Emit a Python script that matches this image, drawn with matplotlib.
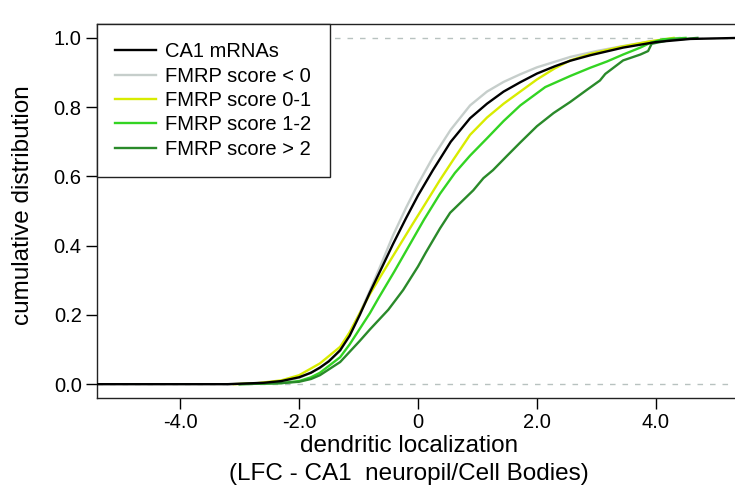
import matplotlib
matplotlib.use('Agg')
import matplotlib.pyplot as plt

plt.rcParams['font.family'] = ['Liberation Sans', 'DejaVu Sans']

# cumulative distribution curves
ca1X = [-5.4, -3.2, -2.6, -2.3, -2.0, -1.8, -1.65, -1.5, -1.31, -1.15, -0.98, -0.81, -0.6, -0.42, -0.2, 0.0, 0.25, 0.55, 0.875, 1.16, 1.44, 1.72, 2.0, 2.3, 2.56, 2.9, 3.45, 4.0, 4.58, 5.4]
ca1Y = [0.0, 0.0, 0.004, 0.009, 0.02, 0.033, 0.048, 0.066, 0.098, 0.14, 0.20, 0.265, 0.34, 0.405, 0.48, 0.545, 0.618, 0.70, 0.768, 0.81, 0.845, 0.872, 0.897, 0.918, 0.934, 0.95, 0.972, 0.988, 0.997, 1.0]

grayX = [-3.2, -2.6, -2.3, -2.0, -1.65, -1.31, -0.98, -0.81, -0.6, -0.42, -0.2, 0.0, 0.25, 0.55, 0.875, 1.16, 1.44, 1.72, 2.0, 2.56, 3.0, 3.4, 3.9, 4.4]
grayY = [0.0, 0.004, 0.008, 0.018, 0.046, 0.096, 0.205, 0.27, 0.355, 0.43, 0.51, 0.578, 0.655, 0.735, 0.805, 0.845, 0.873, 0.895, 0.915, 0.945, 0.962, 0.975, 0.99, 1.0]

yellowX = [-3.1, -2.7, -2.3, -2.0, -1.65, -1.31, -1.15, -0.98, -0.81, -0.6, -0.35, -0.1, 0.1, 0.37, 0.6, 0.875, 1.16, 1.44, 1.72, 2.0, 2.3, 2.56, 2.9, 3.4, 3.9, 4.3]
yellowY = [0.0, 0.003, 0.011, 0.026, 0.06, 0.108, 0.15, 0.205, 0.26, 0.32, 0.39, 0.46, 0.515, 0.59, 0.65, 0.72, 0.77, 0.81, 0.845, 0.88, 0.912, 0.935, 0.954, 0.974, 0.99, 1.0]

lightGreenX = [-3.0, -2.3, -2.0, -1.8, -1.65, -1.31, -1.15, -0.98, -0.81, -0.66, -0.4, -0.15, 0.1, 0.37, 0.62, 0.875, 1.16, 1.44, 1.72, 2.14, 2.56, 2.9, 3.18, 3.45, 3.74, 3.91, 4.12, 4.5]
lightGreenY = [0.0, 0.003, 0.009, 0.02, 0.033, 0.078, 0.115, 0.16, 0.205, 0.25, 0.325, 0.40, 0.475, 0.55, 0.61, 0.66, 0.71, 0.76, 0.805, 0.858, 0.89, 0.914, 0.932, 0.952, 0.972, 0.986, 0.996, 1.0]

darkGreenX = [-3.0, -2.3, -2.0, -1.8, -1.65, -1.31, -0.98, -0.81, -0.5, -0.25, 0.0, 0.13, 0.37, 0.54, 0.75, 0.93, 1.10, 1.26, 1.5, 1.72, 2.0, 2.28, 2.56, 2.84, 3.06, 3.15, 3.45, 3.74, 3.87, 3.93, 4.24, 4.7]
darkGreenY = [0.0, 0.003, 0.007, 0.015, 0.026, 0.064, 0.125, 0.158, 0.215, 0.272, 0.34, 0.38, 0.45, 0.495, 0.53, 0.56, 0.595, 0.618, 0.66, 0.698, 0.745, 0.783, 0.815, 0.85, 0.877, 0.896, 0.935, 0.952, 0.962, 0.983, 0.994, 1.0]

xTicks = [-4, -2, 0, 2, 4]
xTickLabels = ['-4.0', '-2.0', '0', '2.0', '4.0']
yTicks = [0.0, 0.2, 0.4, 0.6, 0.8, 1.0]
yTickLabels = ['0.0', '0.2', '0.4', '0.6', '0.8', '1.0']

fig = plt.figure(figsize=(7.35, 4.86), dpi=100)
ax = fig.add_axes([0.132, 0.181, 0.8735, 0.7695])

ax.axhline(0, color='#b8c2c0', lw=1.0, ls=(0, (4, 5)), zorder=1)
ax.axhline(1, color='#b8c2c0', lw=1.0, ls=(0, (4, 5)), zorder=1)

ax.plot(grayX, grayY, color='#c6cecb', lw=1.7, label='FMRP score < 0', zorder=2)
ax.plot(yellowX, yellowY, color='#d8ec00', lw=1.7, label='FMRP score 0-1', zorder=3)
ax.plot(lightGreenX, lightGreenY, color='#33d422', lw=1.7, label='FMRP score 1-2', zorder=4)
ax.plot(darkGreenX, darkGreenY, color='#2a8a2a', lw=1.7, label='FMRP score > 2', zorder=5)
ax.plot(ca1X, ca1Y, color='black', lw=1.7, label='CA1 mRNAs', zorder=6)

ax.set_xlim(-5.4, 5.4)
ax.set_ylim(-0.04, 1.04)
ax.set_xticks(xTicks)
ax.set_xticklabels(xTickLabels)
ax.set_yticks(yTicks)
ax.set_yticklabels(yTickLabels)
ax.tick_params(direction='out', length=8, width=1, labelsize=14.5, pad=3)
for s in ax.spines.values():
    s.set_linewidth(1.0)
    s.set_color('#222222')

handles, labels = ax.get_legend_handles_labels()
order = [4, 0, 1, 2, 3]
leg = ax.legend([handles[i] for i in order], [labels[i] for i in order],
                loc='upper left', borderaxespad=0, fontsize=14.5,
                handlelength=2.05, handletextpad=0.45, labelspacing=0.27,
                borderpad=0.9, fancybox=False, framealpha=1, edgecolor='#222222')
leg.get_frame().set_linewidth(1.0)
leg.set_zorder(10)

fig.text(23 / 735, 1 - 205 / 486, 'cumulative distribution', rotation=90,
         ha='center', va='center', fontsize=17.5)
fig.text(409 / 735, 1 - 452 / 486, 'dendritic localization', ha='center',
         va='baseline', fontsize=17.5)
fig.text(409 / 735, 1 - 480 / 486, '(LFC - CA1  neuropil/Cell Bodies)', ha='center',
         va='baseline', fontsize=17.5)

fig.savefig('out.png', dpi=100, facecolor='w')
